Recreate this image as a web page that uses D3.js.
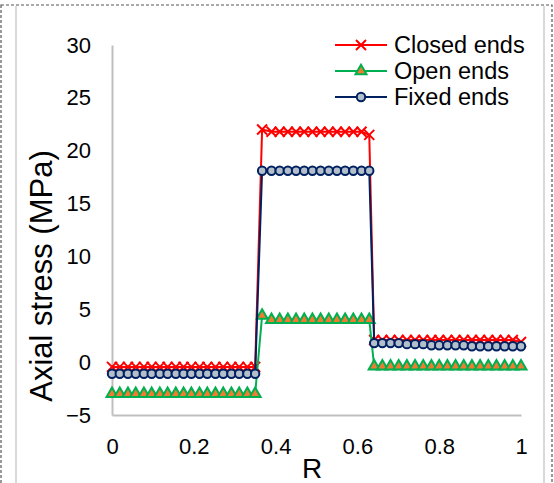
<!DOCTYPE html>
<html>
<head>
<meta charset="utf-8">
<script src="https://cdn.jsdelivr.net/npm/d3@7"></script>
<style>
  body { margin: 0; background: #fff; }
  svg { display: block; font-family: "Liberation Sans", Arial, sans-serif; }
</style>
</head>
<body>
<div id="chart"></div>
<script>
// radial position R (three layers)
const rValues = [
  0.000, 0.019, 0.039, 0.058, 0.078, 0.097, 0.117, 0.136, 0.156, 0.175,
  0.194, 0.214, 0.233, 0.253, 0.272, 0.292, 0.311, 0.331, 0.350,
  0.367, 0.390, 0.410, 0.430, 0.450, 0.470, 0.490, 0.510, 0.530, 0.550,
  0.570, 0.590, 0.610, 0.629,
  0.641, 0.661, 0.681, 0.701, 0.721, 0.741, 0.761, 0.781, 0.800, 0.820,
  0.840, 0.860, 0.880, 0.900, 0.920, 0.940, 0.960, 0.980, 1.000
];

const closedEnds = [
  -0.45, -0.45, -0.45, -0.45, -0.45, -0.45, -0.45, -0.45, -0.45, -0.45,
  -0.45, -0.45, -0.45, -0.45, -0.45, -0.45, -0.45, -0.45, -0.45,
  22.0, 21.8, 21.8, 21.8, 21.8, 21.8, 21.8, 21.8, 21.8, 21.8,
  21.8, 21.8, 21.8, 21.5,
  2.1, 2.1, 2.1, 2.1, 2.1, 2.1, 2.1, 2.1, 2.1, 2.1,
  2.1, 2.1, 2.1, 2.1, 2.1, 2.1, 2.1, 2.1, 1.9
];

const openEnds = [
  -3.0, -3.0, -3.0, -3.0, -3.0, -3.0, -3.0, -3.0, -3.0, -3.0,
  -3.0, -3.0, -3.0, -3.0, -3.0, -3.0, -3.0, -3.0, -3.0,
  4.4, 4.0, 4.0, 4.0, 4.0, 4.0, 4.0, 4.0, 4.0, 4.0,
  4.0, 4.0, 4.0, 4.0,
  -0.4, -0.4, -0.4, -0.4, -0.4, -0.4, -0.4, -0.4, -0.4, -0.4,
  -0.4, -0.4, -0.4, -0.4, -0.4, -0.4, -0.4, -0.4, -0.4
];

const fixedEnds = [
  -1.1, -1.1, -1.1, -1.1, -1.1, -1.1, -1.1, -1.1, -1.1, -1.1,
  -1.1, -1.1, -1.1, -1.1, -1.1, -1.1, -1.1, -1.1, -1.1,
  18.1, 18.1, 18.1, 18.1, 18.1, 18.1, 18.1, 18.1, 18.1, 18.1,
  18.1, 18.1, 18.1, 18.1,
  1.8, 1.8, 1.8, 1.8, 1.7, 1.7, 1.7, 1.6, 1.6, 1.6,
  1.6, 1.6, 1.5, 1.5, 1.5, 1.5, 1.5, 1.5, 1.5
];

const seriesNames = ["Closed ends", "Open ends", "Fixed ends"];
const xTicks = [0, 0.2, 0.4, 0.6, 0.8, 1];
const yTicks = [-5, 0, 5, 10, 15, 20, 25, 30];

const W = 554, H = 483;
const svg = d3.select("#chart").append("svg")
  .attr("width", W).attr("height", H);

// outer frame
svg.append("rect")
  .attr("x", 1).attr("y", 5).attr("width", 551).attr("height", H + 5)
  .attr("fill", "none").attr("stroke", "#555")
  .attr("stroke-width", 1.2).attr("stroke-dasharray", "3,2");
[16, 544].forEach(xx => {
  svg.append("line")
    .attr("x1", xx).attr("x2", xx).attr("y1", 6).attr("y2", H)
    .attr("stroke", "#d9d9d9").attr("stroke-width", 2);
});

const x = d3.scaleLinear().domain([0, 1]).range([112, 521]);
const y = d3.scaleLinear().domain([-5, 30]).range([415, 45]);

// axes
const gx = svg.append("g")
  .attr("transform", `translate(0,${y(-5)})`)
  .call(d3.axisBottom(x).tickValues(xTicks).tickSize(0).tickSizeOuter(0)
    .tickPadding(23).tickFormat(d3.format("~g")));
const gy = svg.append("g")
  .attr("transform", `translate(${x(0)},0)`)
  .call(d3.axisLeft(y).tickValues(yTicks).tickSize(0).tickSizeOuter(0)
    .tickPadding(21));

[gx, gy].forEach(g => {
  g.select(".domain").attr("stroke", "#bfbfbf").attr("stroke-width", 2);
  g.selectAll("text").attr("font-size", 22).attr("fill", "#000")
    .attr("font-family", "Liberation Sans, Arial, sans-serif");
});

// axis titles
svg.append("text")
  .attr("x", 312).attr("y", 478)
  .attr("text-anchor", "middle").attr("font-size", 28)
  .text("R");
svg.append("text")
  .attr("transform", "translate(52,276) rotate(-90)")
  .attr("text-anchor", "middle").attr("font-size", 31)
  .text("Axial stress (MPa)");

// series
const series = [
  { name: seriesNames[0], values: closedEnds, color: "#ff0000", marker: "x" },
  { name: seriesNames[1], values: openEnds, color: "#00b050", marker: "tri" },
  { name: seriesNames[2], values: fixedEnds, color: "#002060", marker: "circ" }
];

const line = d3.line()
  .x(d => x(d[0]))
  .y(d => y(d[1]));

const triPath = d3.symbol().type(d3.symbolTriangle).size(52)();

function drawMarker(g, type, color) {
  if (type === "x") {
    g.append("path")
      .attr("d", "M-5,-5L5,5M-5,5L5,-5")
      .attr("stroke", color).attr("stroke-width", 2).attr("fill", "none");
  } else if (type === "tri") {
    g.append("path")
      .attr("d", triPath)
      .attr("fill", "#ed7d31").attr("stroke", color).attr("stroke-width", 2);
  } else {
    g.append("circle")
      .attr("r", 4.2)
      .attr("fill", "#b4bfcc").attr("stroke", color).attr("stroke-width", 2);
  }
}

series.forEach(s => {
  const pts = rValues.map((r, i) => [r, s.values[i]]);
  svg.append("path")
    .datum(pts)
    .attr("d", line)
    .attr("fill", "none")
    .attr("stroke", s.color)
    .attr("stroke-width", 2);
  pts.forEach(p => {
    const g = svg.append("g").attr("transform", `translate(${x(p[0])},${y(p[1])})`);
    drawMarker(g, s.marker, s.color);
  });
});

// legend
series.forEach((s, i) => {
  const ly = 45 + i * 26;
  const g = svg.append("g");
  g.append("line")
    .attr("x1", 335).attr("x2", 387).attr("y1", ly).attr("y2", ly)
    .attr("stroke", s.color).attr("stroke-width", 2);
  drawMarker(g.append("g").attr("transform", `translate(361,${ly})`), s.marker, s.color);
  g.append("text")
    .attr("x", 394).attr("y", ly).attr("dy", "0.35em")
    .attr("font-size", 23.5).text(s.name);
});
</script>
</body>
</html>
